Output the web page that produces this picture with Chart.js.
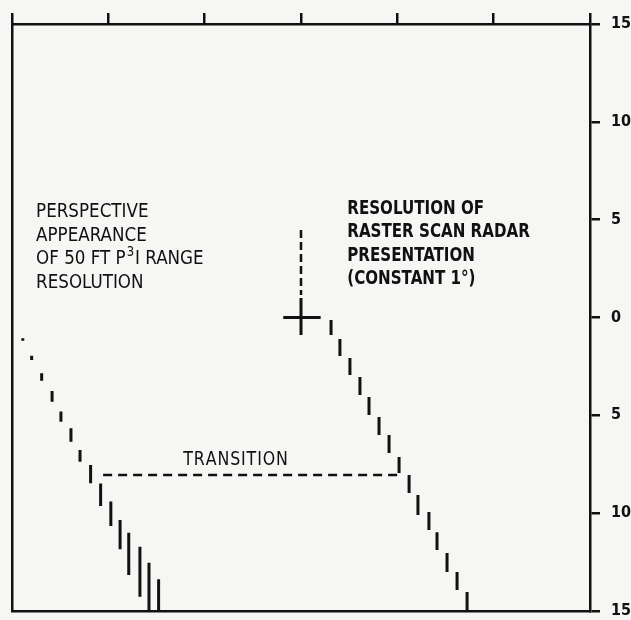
<!DOCTYPE html>
<html lang="en">
<head>
<meta charset="utf-8">
<title>Range Resolution</title>
<script src="https://cdn.jsdelivr.net/npm/chart.js@4.4.1/dist/chart.umd.min.js"></script>
<style>
body { margin: 0; background: #f6f6f4; }
#wrap { width: 631px; height: 620px; }
</style>
</head>
<body>
<div id="wrap"><canvas id="myChart"></canvas></div>
<script>
// raster scan radar presentation (constant 1 deg), one mark per range step
var rasterX      = [1.56, 2.02, 2.54, 3.06, 3.53, 4.05, 4.57, 5.09, 5.61, 6.07, 6.64, 7.06, 7.58, 8.10, 8.62];
var rasterTop    = [-0.13, -1.10, -2.07, -3.04, -4.06, -5.09, -6.00, -7.13, -8.05, -9.07, -9.94, -10.97, -12.04, -13.01, -14.03];
var rasterBottom = [-0.89, -1.97, -2.94, -3.96, -4.98, -6.00, -6.92, -7.95, -8.97, -10.09, -10.86, -11.88, -13.01, -13.93, -14.95];

// perspective appearance of 50 ft P3I range resolution
var perspX      = [-14.44, -13.98, -13.46, -12.92, -12.46, -11.94, -11.47, -10.92, -10.40, -9.87, -9.39, -8.94, -8.36, -7.89, -7.39];
var perspTop    = [-1.06, -1.95, -2.85, -3.76, -4.81, -5.66, -6.77, -7.54, -8.48, -9.41, -10.35, -11.00, -11.71, -12.53, -13.38];
var perspBottom = [-1.19, -2.17, -3.23, -4.30, -5.33, -6.35, -7.37, -8.47, -9.63, -10.66, -11.85, -13.16, -14.27, -15, -15];

var transitionX = [-10.27, 5.03];
var transitionY = -8.05;
var crossX = [-0.92, 1.02];
var crossY = [1.0, -0.89];
var stemY  = [4.47, 1.15];

var axisTicks = [-15, -10, -5, 0, 5, 10, 15];

// text notes: anchor in data units, squeeze = horizontal scale of the type
var notes = [
    {lines: ['PERSPECTIVE', 'APPEARANCE', 'OF 50 FT P^3I RANGE', 'RESOLUTION'], x: -13.75, y: 5.12, bold: false, squeeze: 0.93},
    {lines: ['RESOLUTION OF', 'RASTER SCAN RADAR', 'PRESENTATION', '(CONSTANT 1\u00b0)'], x: 2.4, y: 5.3, bold: true, squeeze: 0.84},
    {lines: ['TRANSITION'], x: -6.11, y: -7.54, bold: false, squeeze: 0.88, spacing: 1}
];

var FONT = '"DejaVu Sans Condensed", "DejaVu Sans", sans-serif';

function marks(xs, tops, bottoms) {
    var pts = [];
    for (var i = 0; i < xs.length; i++) {
        pts.push({x: xs[i], y: tops[i]});
        pts.push({x: xs[i], y: bottoms[i]});
        pts.push({x: xs[i], y: null});
    }
    return pts;
}

function fixSize(w, h) {
    return function (scale) {
        if (w !== null) scale.width = w;
        if (h !== null) scale.height = h;
        scale.paddingTop = scale.paddingBottom = 0;
        scale.paddingLeft = scale.paddingRight = 0;
    };
}

function setTicks(scale) {
    scale.ticks = axisTicks.map(function (v) { return {value: v}; });
}

function spaced(ctx, text, x, y, gap) {
    if (!gap) { ctx.fillText(text, x, y); return ctx.measureText(text).width; }
    var cx = x;
    for (var i = 0; i < text.length; i++) {
        ctx.fillText(text[i], cx, y);
        cx += ctx.measureText(text[i]).width + gap;
    }
    return cx - x;
}

var notesPlugin = {
    id: 'notes',
    afterDatasetsDraw: function (chart) {
        var ctx = chart.ctx;
        var xs = chart.scales.x, ys = chart.scales.y;
        ctx.save();
        ctx.fillStyle = '#111';
        ctx.textBaseline = 'alphabetic';
        notes.forEach(function (n) {
            var px = xs.getPixelForValue(n.x);
            var py = ys.getPixelForValue(n.y);
            var w8 = n.bold ? 'bold ' : '';
            var font = w8 + '20px ' + FONT;
            ctx.save();
            ctx.translate(px, py);
            ctx.scale(n.squeeze, 1);
            n.lines.forEach(function (line, i) {
                var y = i * 23.5;
                var parts = line.split('^');
                ctx.font = font;
                var w = spaced(ctx, parts[0], 0, y, n.spacing);
                if (parts.length > 1) {
                    ctx.font = w8 + '14px ' + FONT;
                    ctx.fillText(parts[1].charAt(0), w + 1, y - 8);
                    var w2 = ctx.measureText(parts[1].charAt(0)).width;
                    ctx.font = font;
                    ctx.fillText(parts[1].slice(1), w + w2 + 2, y);
                }
            });
            ctx.restore();
        });
        ctx.restore();
    }
};

var ink = '#111';

var ctx = document.getElementById('myChart').getContext('2d');
var myChart = new Chart(ctx, {
    type: 'line',
    data: {
        datasets: [{
            label: 'Perspective',
            data: marks(perspX, perspTop, perspBottom),
            borderColor: ink,
            borderWidth: 3
        }, {
            label: 'Raster scan',
            data: marks(rasterX, rasterTop, rasterBottom),
            borderColor: ink,
            borderWidth: 3
        }, {
            label: 'Transition',
            data: [{x: transitionX[0], y: transitionY}, {x: transitionX[1], y: transitionY}],
            borderColor: ink,
            borderWidth: 2.5,
            borderDash: [9, 6]
        }, {
            label: 'Stem',
            data: [{x: 0, y: stemY[0]}, {x: 0, y: stemY[1]}],
            borderColor: ink,
            borderWidth: 2.5,
            borderDash: [8, 4]
        }, {
            label: 'Cross',
            data: [{x: crossX[0], y: 0}, {x: crossX[1], y: 0}, {x: 0, y: null},
                   {x: 0, y: crossY[0]}, {x: 0, y: crossY[1]}],
            borderColor: ink,
            borderWidth: 3
        }]
    },
    options: {
        responsive: true,
        maintainAspectRatio: false,
        animation: false,
        datasets: {
            line: {
                xAxisID: 'x',
                yAxisID: 'y',
                pointRadius: 0,
                pointHoverRadius: 0,
                spanGaps: false,
                tension: 0,
                borderCapStyle: 'butt'
            }
        },
        layout: {padding: 0},
        plugins: {
            legend: {display: false},
            tooltip: {enabled: false}
        },
        scales: {
            x: {
                type: 'linear',
                position: 'top',
                min: -15, max: 15,
                afterBuildTicks: setTicks,
                afterFit: fixSize(null, 24),
                ticks: {display: false},
                grid: {drawOnChartArea: false, tickLength: 11, color: ink, lineWidth: 2.5},
                border: {color: ink, width: 2.5}
            },
            y: {
                type: 'linear',
                position: 'right',
                min: -15, max: 15,
                afterBuildTicks: setTicks,
                afterFit: fixSize(41, null),
                ticks: {
                    color: ink,
                    padding: 11,
                    font: {family: FONT, size: 16, weight: 'bold'},
                    callback: function (v) { return Math.abs(v); }
                },
                grid: {drawOnChartArea: false, tickLength: 10, color: ink, lineWidth: 2.5},
                border: {color: ink, width: 2.5}
            },
            xb: {
                type: 'linear',
                axis: 'x',
                position: 'bottom',
                afterFit: fixSize(null, 9),
                ticks: {display: false},
                grid: {drawOnChartArea: false, drawTicks: false, color: ink},
                border: {color: ink, width: 2.5}
            },
            yl: {
                type: 'linear',
                axis: 'y',
                position: 'left',
                afterFit: fixSize(12, null),
                ticks: {display: false},
                grid: {drawOnChartArea: false, drawTicks: false, color: ink},
                border: {color: ink, width: 2.5}
            }
        }
    },
    plugins: [notesPlugin]
});
</script>
</body>
</html>
